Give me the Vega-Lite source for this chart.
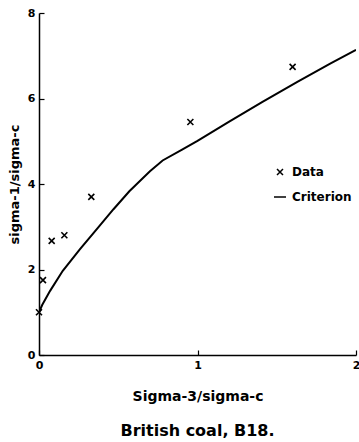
{
  "$schema": "https://vega.github.io/schema/vega-lite/v6.json",
  "autosize": "none",
  "width": 317,
  "height": 342,
  "padding": {"left": 39, "top": 13, "right": 3, "bottom": 87},
  "background": "white",
  "config": {
    "view": {"stroke": null},
    "font": "DejaVu Sans",
    "axis": {
      "grid": false,
      "domainColor": "black",
      "domainWidth": 1.5,
      "tickColor": "black",
      "tickWidth": 1.2,
      "tickSize": -5,
      "labelPadding": 9,
      "labelOverlap": false,
      "labelFlush": false,
      "labelFont": "DejaVu Sans",
      "labelFontWeight": "bold",
      "labelFontSize": 11,
      "labelColor": "black",
      "titleFont": "DejaVu Sans",
      "titleFontWeight": "bold",
      "titleColor": "black"
    },
    "legend": {
      "labelFont": "DejaVu Sans",
      "labelFontWeight": "bold",
      "labelFontSize": 12,
      "labelColor": "black"
    },
    "title": {
      "font": "DejaVu Sans",
      "fontWeight": "bold",
      "fontSize": 16,
      "color": "black"
    }
  },
  "title": {"text": "British coal, B18.", "orient": "bottom", "offset": 20},
  "datasets": {
    "points": [
      {"s3": 0.0, "s1": 1.0, "series": "Data"},
      {"s3": 0.025, "s1": 1.75, "series": "Data"},
      {"s3": 0.08, "s1": 2.67, "series": "Data"},
      {"s3": 0.16, "s1": 2.8, "series": "Data"},
      {"s3": 0.33, "s1": 3.7, "series": "Data"},
      {"s3": 0.955, "s1": 5.45, "series": "Data"},
      {"s3": 1.6, "s1": 6.74, "series": "Data"}
    ],
    "curve": [
      {"s3": 0.0, "s1": 1.0},
      {"s3": 0.02, "s1": 1.17},
      {"s3": 0.07, "s1": 1.5},
      {"s3": 0.15, "s1": 1.97},
      {"s3": 0.26, "s1": 2.48},
      {"s3": 0.37, "s1": 2.97},
      {"s3": 0.47, "s1": 3.41},
      {"s3": 0.57, "s1": 3.83},
      {"s3": 0.7, "s1": 4.3},
      {"s3": 0.78, "s1": 4.55},
      {"s3": 0.9, "s1": 4.8},
      {"s3": 1.0, "s1": 5.01},
      {"s3": 1.2, "s1": 5.46},
      {"s3": 1.41, "s1": 5.92},
      {"s3": 1.63, "s1": 6.39},
      {"s3": 1.84, "s1": 6.82},
      {"s3": 2.0, "s1": 7.14}
    ]
  },
  "layer": [
    {
      "data": {"name": "curve"},
      "mark": {"type": "line", "color": "black", "strokeWidth": 2, "clip": true},
      "encoding": {
        "x": {
          "field": "s3", "type": "quantitative",
          "scale": {"domain": [0, 2], "nice": false, "zero": true},
          "axis": {"values": [0, 1, 2], "labelExpr": "datum.value", "title": "Sigma-3/sigma-c", "titleFontSize": 14, "titlePadding": 19}
        },
        "y": {
          "field": "s1", "type": "quantitative",
          "scale": {"domain": [0, 8], "nice": false},
          "axis": {"values": [0, 2, 4, 6, 8], "labelExpr": "datum.value", "title": "sigma-1/sigma-c", "titleFontSize": 13, "titlePadding": 6}
        }
      }
    },
    {
      "data": {"name": "points"},
      "mark": {"type": "point", "filled": false, "stroke": "black", "strokeWidth": 1.6, "size": 144, "opacity": 1},
      "encoding": {
        "x": {"field": "s3", "type": "quantitative"},
        "y": {"field": "s1", "type": "quantitative"},
        "shape": {
          "field": "series", "type": "nominal",
          "scale": {"domain": ["Data", "Criterion"], "range": ["M-0.5,-0.5L0.5,0.5M0.5,-0.5L-0.5,0.5", "M-1,0H1"]},
          "legend": {
            "title": null,
            "orient": "none",
            "legendX": 234,
            "legendY": 152,
            "padding": 0,
            "symbolSize": 144,
            "symbolStrokeColor": "black",
            "symbolStrokeWidth": 1.5,
            "labelOffset": 5,
            "rowPadding": 12,
            "values": ["Data", "Criterion"]
          }
        }
      }
    }
  ]
}
